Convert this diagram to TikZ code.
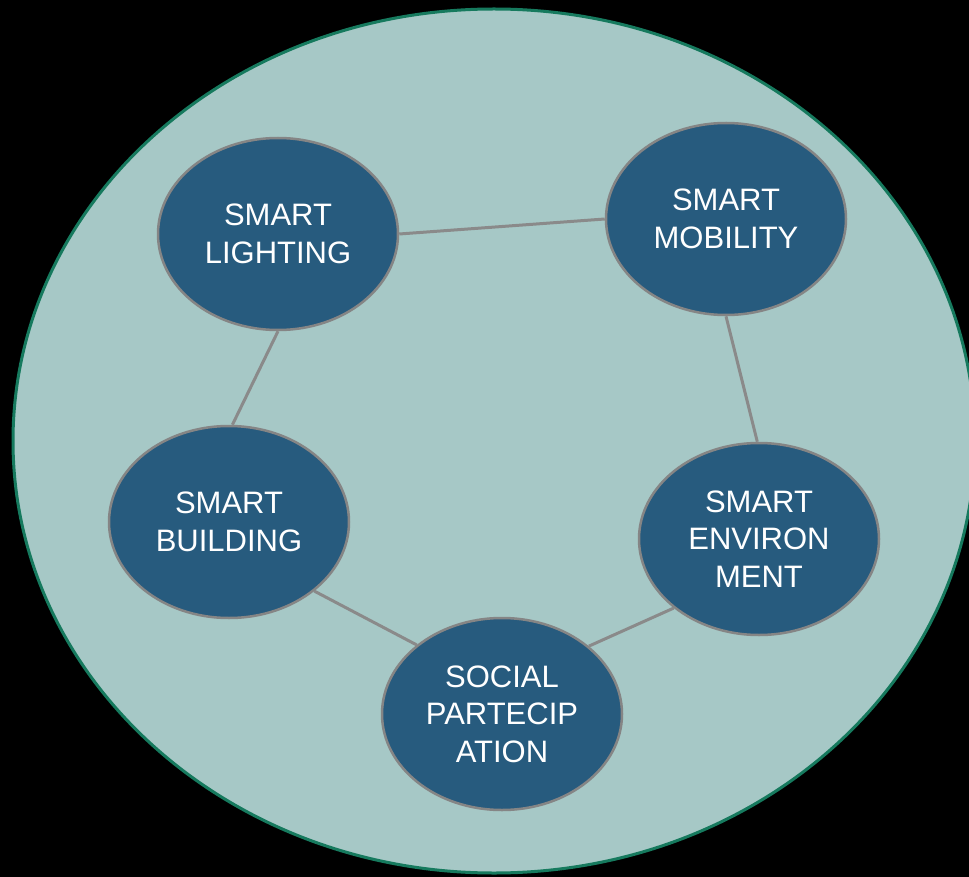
\documentclass[tikz,border=0pt]{standalone}
\usepackage{fontspec}
\setmainfont{Liberation Sans}
\usetikzlibrary{shapes.geometric}
\definecolor{bgfill}{HTML}{A6C8C6}
\definecolor{rimgreen}{HTML}{167A5E}
\definecolor{bubble}{HTML}{275B7E}
\definecolor{rimgrey}{HTML}{858585}
\definecolor{linkgrey}{HTML}{8A8A8A}
\tikzset{
  bubblenode/.style={ellipse, draw=rimgrey, line width=2.5pt, fill=bubble,
    minimum width=240pt, minimum height=192pt, inner sep=0pt,
    text=white, align=center, font=\fontsize{31}{37.5}\selectfont},
  linkline/.style={draw=linkgrey, line width=3pt},
}
\begin{document}
\begin{tikzpicture}[x=1pt,y=-1pt]
\useasboundingbox (0,0) rectangle (969,877);
\fill[black] (0,0) rectangle (969,877);
\begin{scope}
\clip (0,0) rectangle (969,877);
\filldraw[fill=bgfill, draw=rimgreen, line width=3pt] (494,441) ellipse [x radius=481pt, y radius=432pt];
\end{scope}
\node[bubblenode] (L) at (278,234) {SMART\\LIGHTING};
\node[bubblenode] (M) at (726,219) {SMART\\MOBILITY};
\node[bubblenode] (B) at (229,522) {SMART\\BUILDING};
\node[bubblenode] (E) at (759,539) {SMART\\ENVIRON\\MENT};
\node[bubblenode] (S) at (502,714) {SOCIAL\\PARTECIP\\ATION};
\draw[linkline] (L.0) -- (M.180);
\draw[linkline] (L.-90) -- (B.88);
\draw[linkline] (M.-90) -- (E.91);
\draw[linkline] (B.-39) -- (S.141);
\draw[linkline] (S.38) -- (E.-141);
\end{tikzpicture}
\end{document}
